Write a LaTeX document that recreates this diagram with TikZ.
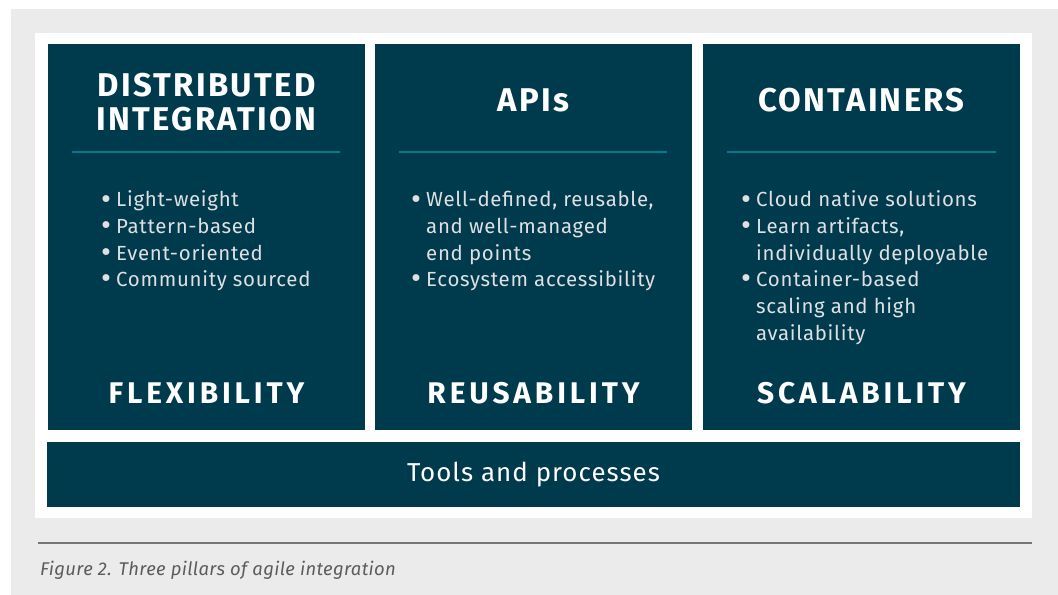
\documentclass[tikz,border=0pt]{standalone}
\usepackage{graphicx}
\usepackage{fontspec}
\setmainfont{Fira Sans}
\definecolor{pillarblue}{RGB}{0,58,77}
\definecolor{ruleteal}{RGB}{0,126,138}
\definecolor{pagegray}{RGB}{235,235,235}
\definecolor{listgray}{RGB}{222,224,226}
\definecolor{captiongray}{RGB}{92,92,92}
\newcommand{\blt}{\makebox[15bp][l]{\raisebox{-0.2ex}{\scalebox{1.5}{\textbullet}}}}
\begin{document}
\begin{tikzpicture}
			[x=1bp,y=-1bp,
			box/.style={fill=pillarblue,inner sep=0pt},
			head/.style={anchor=base,text=white,font=\bfseries\fontsize{33}{36}\selectfont\addfontfeature{LetterSpace=7}},
			foot/.style={anchor=base,text=white,font=\bfseries\fontsize{30}{34}\selectfont\addfontfeature{LetterSpace=13}},
			list/.style={anchor=base west,inner sep=0pt,text=listgray,font=\fontsize{20.5}{26.7}\selectfont\addfontfeature{LetterSpace=3.5}},
			sep/.style={ruleteal,line width=2bp}]
			\useasboundingbox(0,0)rectangle(1058,595);
			\fill[pagegray](11,9)rectangle(1058,595);
			\fill[white](35,33)rectangle(1032,518);
			\node[box,name=p1,minimum width=317bp,minimum height=386bp]at(206.5,237){};
			\node[box,name=p2,minimum width=317bp,minimum height=386bp]at(533.5,237){};
			\node[box,name=p3,minimum width=317bp,minimum height=386bp]at(861.5,237){};
			\node[box,name=tools,minimum width=973bp,minimum height=65bp,text=white,font=\fontsize{26}{30}\selectfont\addfontfeature{LetterSpace=4}]at(533.5,474.5){Tools and processes};
			\node[head,name=h1a]at(206.5,97){DISTRIBUTED};
			\node[head,name=h1b]at(206.5,131){INTEGRATION};
			\node[head,name=h2]at(533.5,112){APIs};
			\node[head,name=h3]at(861.5,112){CONTAINERS};
			\draw[sep](72,152)--(340,152);
			\draw[sep](399,152)--(667,152);
			\draw[sep](727,152)--(996,152);
			\node[list,name=l1]at(101,207){\begin{tabular}[t]{@{}l@{}l@{}}
				\blt&Light-weight\\
				\blt&Pattern-based\\
				\blt&Event-oriented\\
				\blt&Community sourced
			\end{tabular}};
			\node[list,name=l2]at(411,207){\begin{tabular}[t]{@{}l@{}l@{}}
				\blt&Well-defined, reusable,\\
				&and well-managed\\
				&end points\\
				\blt&Ecosystem accessibility
			\end{tabular}};
			\node[list,name=l3]at(741,207){\begin{tabular}[t]{@{}l@{}l@{}}
				\blt&Cloud native solutions\\
				\blt&Learn artifacts,\\
				&individually deployable\\
				\blt&Container-based\\
				&scaling and high\\
				&availability
			\end{tabular}};
			\node[foot,name=f1]at(206.5,403){FLEXIBILITY};
			\node[foot,name=f2]at(533.5,403){REUSABILITY};
			\node[foot,name=f3]at(861.5,403){SCALABILITY};
			\draw[captiongray!85,line width=1.5bp](38,543)--(1032,543);
			\node[anchor=base west,inner sep=0pt,name=cap,text=captiongray,font=\itshape\fontsize{18.5}{22}\selectfont\addfontfeature{LetterSpace=2}]at(40,575){Figure 2. Three pillars of agile integration};
		\end{tikzpicture}
\end{document}
